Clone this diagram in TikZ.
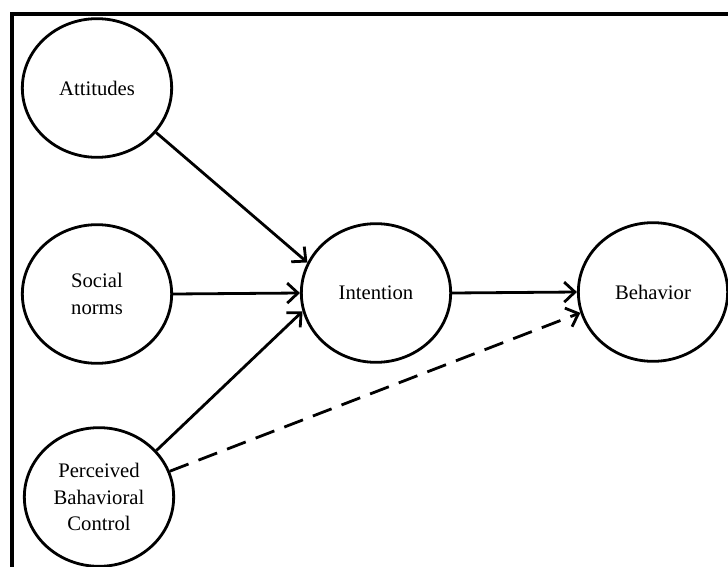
\documentclass[tikz,border=0pt]{standalone}
\usepackage{fontspec}
\setmainfont{Liberation Serif}
\usetikzlibrary{shapes.geometric,arrows.meta}
\begin{document}
\begin{tikzpicture}[x=0.75pt, y=-0.75pt,
construct/.style={ellipse, draw, line width=2.1pt, minimum width=112pt, minimum height=104pt,
  inner sep=0pt, align=center, font=\fontsize{15.5}{20}\selectfont},
link/.style={line width=2.1pt, -{Straight Barb[length=8pt, width=15pt, line width=2.1pt]}}]
\useasboundingbox (0,0) rectangle (728,567);
\clip (0,0) rectangle (728,567);
\draw[line width=2.6pt] (12,14) rectangle (760,600);
\node[construct] (att) at (97,88) {Attitudes};
\node[construct] (soc) at (97,294) {Social\\norms};
\node[construct] (pbc) at (99,497) {Perceived\\Bahavioral\\Control};
\node[construct] (int) at (376,293) {Intention};
\node[construct] (beh) at (653,292) {Behavior};
\draw[link] (att.-37) -- (int.156);
\draw[link] (soc.east) -- (int.west);
\draw[link] (pbc.39) -- (int.194);
\draw[link] (int.east) -- (beh.west);
\draw[link, dash pattern=on 15pt off 8pt] (pbc.20) -- (beh.196);
\end{tikzpicture}
\end{document}
